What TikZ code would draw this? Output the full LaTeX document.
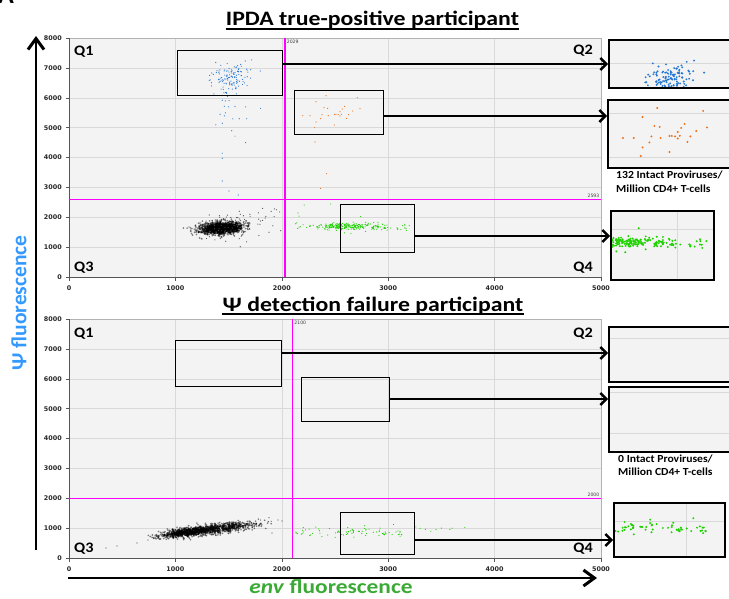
\documentclass[tikz,border=0pt]{standalone}
\usepackage{fontspec}
\setmainfont{Carlito}
\newfontfamily\tickfont{DejaVu Sans}
\usetikzlibrary{arrows.meta}

\definecolor{plotbg}{HTML}{F3F3F3}
\definecolor{gridc}{HTML}{D9D9D9}
\definecolor{axisc}{HTML}{555555}
\definecolor{ptblue}{HTML}{2478D4}
\definecolor{ptorange}{HTML}{EC7017}
\definecolor{ptgreen}{HTML}{1ED200}
\definecolor{gatec}{HTML}{FF00FF}
\definecolor{psiblue}{HTML}{3399FF}
\definecolor{envgreen}{HTML}{3AAA35}

\tikzset{
  plottop/.style={shift={(69pt,-277pt)}, x=0.1064pt, y=0.02985pt},
  plotbot/.style={shift={(69pt,-558pt)}, x=0.1064pt, y=0.02985pt},
  ticklab/.style={font=\tickfont\bfseries\fontsize{6.4}{7}\selectfont, text=black!85, inner sep=0pt},
  gatelab/.style={font=\tickfont\fontsize{4.6}{5}\selectfont, text=black!75, inner sep=0pt},
  qlab/.style={font=\bfseries\fontsize{14.5}{16}\selectfont, inner sep=0pt, xscale=1.12},
  title/.style={font=\bfseries\fontsize{20.5}{24}\selectfont, inner sep=0pt, anchor=base, xscale=1.16},
  countlab/.style={font=\bfseries\fontsize{10.8}{12}\selectfont, inner sep=0pt, anchor=base west, xscale=1.08},
  gatebox/.style={draw, line width=1.4pt, inner sep=0pt, anchor=north west},
  insetbox/.style={draw, line width=1.7pt, inner sep=0pt, anchor=north west},
  conn/.style={line width=1.5pt, -{Straight Barb[length=6pt,width=12pt,line width=2.4pt]}},
  axisarrow/.style={line width=2.7pt, -{Straight Barb[length=11pt,width=16pt,line width=3pt]}},
  gateline/.style={gatec, line width=1.5pt},
  graydot/.style={black, fill opacity=0.5},
}

\def\dotr{0.9pt}
% a pair of standard normal deviates in \gA, \gB
\newcommand\gpair{%
  \pgfmathsetmacro\gR{sqrt(-2*ln(rnd*0.998+0.001))}%
  \pgfmathsetmacro\gT{360*rnd}%
  \pgfmathsetmacro\gA{\gR*cos(\gT)}%
  \pgfmathsetmacro\gB{\gR*sin(\gT)}}
% gaussian cloud: count, mean x, sd x, mean y, sd y, slope, fill style
\newcommand\gcloud[7]{%
  \foreach \k in {1,...,#1}{%
    \gpair
    \pgfmathsetmacro\cX{#2+#3*(\gA)}%
    \pgfmathsetmacro\cY{#4+#6*(\cX-#2)+#5*(\gB)}%
    \fill[#7] (\cX,\cY) circle (\dotr);}}
% band cloud: count, x from, x to, mean y, sd y, fill style
\newcommand\bcloud[6]{%
  \foreach \k in {1,...,#1}{%
    \gpair
    \pgfmathsetmacro\cX{#2+(#3-#2)*rnd}%
    \pgfmathsetmacro\cY{#4+#5*(\gB)}%
    \fill[#6] (\cX,\cY) circle (\dotr);}}
% single listed events
\newcommand\evts[2]{\foreach \a/\b in {#2}{\fill[#1] (\a,\b) circle (\dotr);}}

% ---- event populations (data coordinates) ----
\newcommand\topblue{%
  \pgfmathsetseed{101}%
  \gcloud{132}{1515}{90}{6640}{270}{0}{ptblue}%
  \evts{ptblue}{1440/5920,1470/5900,1460/5720,1500/5700,1560/5710,1660/5700,
    1800/5650,1420/5450,1460/5400,1540/5300,1600/5300,1670/5300,1440/5150,
    1530/4900,1560/4720,1660/4500,1440/4150,1440/3980,1440/3216,1504/2881,
    1590/2747,1380/5100,1470/5500}}
\newcommand\toporange{%
  \evts{ptorange}{2415/6074,2710/6007,2321/5873,2397/5672,2431/5650,2591/5717,
    2735/5640,2569/5628,2196/5404,2265/5404,2378/5438,2437/5404,2494/5449,
    2509/5449,2547/5538,2547/5394,2628/5438,2666/5561,2321/5193,2365/5304,
    2609/5315,2309/5002,2494/5092,2312/4523,2421/3461,2365/2969,2530/5440,
    2560/5452}}
\newcommand\topgreen{%
  \pgfmathsetseed{303}%
  \gcloud{190}{2640}{170}{1690}{55}{0}{ptgreen}%
  \bcloud{70}{2090}{3200}{1690}{70}{ptgreen}%
  \evts{ptgreen}{2152/2144,2162/2040,2210/2412,2459/2446,2741/2021,2200/1750,
    2590/1480,2650/1460}}
\newcommand\topgray{%
  \pgfmathsetseed{404}%
  \gcloud{1600}{1430}{100}{1640}{100}{0.2}{graydot}%
  \def\dotr{0.6pt}%
  \gcloud{80}{1500}{220}{1700}{230}{0.3}{black!70}%
  \evts{black!70}{1780/2150,1900/2200,1950/2250,1850/2030,1980/2180,1880/1500,
    1700/2100,1600/2200,1640/2050,1250/1270,1320/1350,1990/1550,1820/2300,
    1930/2280}}
\newcommand\botgray{%
  \pgfmathsetseed{505}%
  \gcloud{900}{1120}{135}{870}{75}{0.42}{graydot}%
  \gcloud{600}{1450}{170}{1010}{80}{0.42}{graydot}%
  \def\dotr{0.6pt}%
  \evts{black!70}{348/335,451/402,639/503,742/604,800/700,1908/838,1964/1273,
    2002/1240,1880/1350,1800/1270,1900/1230}}
\newcommand\botgreen{%
  \pgfmathsetseed{606}%
  \bcloud{80}{2110}{3150}{860}{70}{ptgreen}%
  \evts{ptgreen}{3260/1040,3300/990,3350/960,3400/900,3450/950,3500/1000,
    3580/960,3600/1000,3720/1020,2780/1080,3050/1120,2620/1020}}

% ---- axes, grid and tick labels of one dot plot ----
\newcommand\plotframe[1]{%
  \fill[plotbg] (0,0) rectangle (5000,8000);
  \foreach \v in {1000,2000,...,7000} \draw[gridc, line width=0.6pt] (0,\v) -- (5000,\v);
  \foreach \v in {1000,2000,3000,4000} \draw[gridc, line width=0.6pt] (\v,0) -- (\v,8000);
  \draw[black!30, line width=0.6pt] (0,8000) -- (5000,8000) -- (5000,0);
  \draw[axisc, line width=0.8pt] (0,8000) -- (0,0) -- (5000,0);
  \foreach \v in {0,1000,...,8000}{
    \draw[axisc, line width=0.6pt] (0,\v) -- ++(-3.5pt,0);
    \node[ticklab, anchor=east] (#1y\v) at ([xshift=-7pt]0,\v) {\v};}
  \foreach \v in {0,1000,...,5000}{
    \draw[axisc, line width=0.6pt] (\v,0) -- ++(0,-3.5pt);
    \node[ticklab, anchor=north] (#1x\v) at ([yshift=-8.5pt]\v,0) {\v};}}

\begin{document}
\begin{tikzpicture}[x=1pt, y=-1pt]
\useasboundingbox (0,0) rectangle (729,599);

% cut-off panel letter
\node[font=\bfseries\fontsize{26}{26}\selectfont, inner sep=0pt, anchor=base west] (panel) at (-2,3.3) {A};

% titles
\node[title] (t1) at (372.5,26) {IPDA true-positive participant};
\draw[line width=1.3pt] ([yshift=-3pt]t1.base west) -- ([yshift=-3pt]t1.base east);
\node[title] (t2) at (373,311) {Ψ detection failure participant};
\draw[line width=1.3pt] ([yshift=-3pt]t2.base west) -- ([yshift=-3pt]t2.base east);

% ================= top plot =================
\begin{scope}[plottop]
  \plotframe{t}
  \begin{scope}
    \clip (0,0) rectangle (5000,8000);
    \topgray
    \topblue
    \toporange
    \topgreen
  \end{scope}
  \draw[gateline] (2029,0) -- (2029,8000);
  \draw[gateline] (0,2593) -- (5000,2593);
  \node[gatelab, anchor=north west] (tg1) at ([xshift=1.8pt,yshift=-2pt]2029,8000) {2029};
  \node[gatelab, anchor=south east] (tg2) at ([xshift=-1.5pt,yshift=1.5pt]5000,2593) {2593};
\end{scope}

\node[qlab, anchor=base west] (tq1l) at (74,56) {Q1};
\node[qlab, anchor=base east] (tq2l) at (593,55) {Q2};
\node[qlab, anchor=base west] (tq3l) at (74,272) {Q3};
\node[qlab, anchor=base east] (tq4l) at (593,272) {Q4};

\node[gatebox, minimum width=105pt, minimum height=45pt] (tb1) at (177,50) {};
\node[gatebox, minimum width=89pt, minimum height=44pt] (tb2) at (294,90) {};
\node[gatebox, minimum width=74pt, minimum height=48pt] (tb3) at (340,204) {};

% top insets
\fill[plotbg] (608,39) rectangle (740,87);
\draw[gridc, line width=0.6pt] (608,63) -- (740,63);
\begin{scope}
  \clip (608,39) rectangle (740,87);
  \begin{scope}[shift={(483.32pt,-293.4pt)}, x=0.12284pt, y=0.032pt]
    \def\dotr{1.05pt}
    \topblue
  \end{scope}
\end{scope}
\node[insetbox, minimum width=132pt, minimum height=48pt] (ti1) at (608,39) {};

\fill[plotbg] (607,99) rectangle (740,167);
\draw[gridc, line width=0.6pt] (607,113) -- (740,113);
\draw[gridc, line width=0.6pt] (607,157) -- (740,157);
\begin{scope}
  \clip (607,99) rectangle (740,167);
  \begin{scope}[shift={(280.9pt,-380pt)}, x=0.1558pt, y=0.04478pt]
    \def\dotr{1.1pt}
    \toporange
  \end{scope}
\end{scope}
\node[insetbox, minimum width=133pt, minimum height=68pt] (ti2) at (607,99) {};

\node[countlab] (tc1) at (616,179) {132 Intact Proviruses/};
\node[countlab] (tc2) at (616,193) {Million CD4+ T-cells};

\fill[plotbg] (610,210) rectangle (713,279);
\draw[gridc, line width=0.6pt] (610,229) -- (713,229);
\draw[gridc, line width=0.6pt] (677,210) -- (677,279);
\begin{scope}
  \clip (610,210) rectangle (713,279);
  \begin{scope}[shift={(233.3pt,-314.95pt)}, x=0.1479pt, y=0.0429pt]
    \def\dotr{1.1pt}
    \topgreen
  \end{scope}
\end{scope}
\node[insetbox, minimum width=103pt, minimum height=69pt] (ti3) at (610,210) {};

\coordinate (ta1) at (0,64);
\coordinate (ta2) at (0,116);
\coordinate (ta3) at (0,236);
\draw[conn] (tb1.east |- ta1) -- (ti1.west |- ta1);
\draw[conn] (tb2.east |- ta2) -- (ti2.west |- ta2);
\draw[conn] (tb3.east |- ta3) -- (ti3.west |- ta3);

% ================= bottom plot =================
\begin{scope}[plotbot]
  \plotframe{b}
  \begin{scope}
    \clip (0,0) rectangle (5000,8000);
    \botgray
    \botgreen
  \end{scope}
  \draw[gateline] (2100,0) -- (2100,8000);
  \draw[gateline] (0,2000) -- (5000,2000);
  \node[gatelab, anchor=north west] (bg1) at ([xshift=1.8pt,yshift=-2pt]2100,8000) {2100};
  \node[gatelab, anchor=south east] (bg2) at ([xshift=-1.5pt,yshift=1.5pt]5000,2000) {2000};
\end{scope}

\node[qlab, anchor=base west] (bq1l) at (74,337) {Q1};
\node[qlab, anchor=base east] (bq2l) at (593,337) {Q2};
\node[qlab, anchor=base west] (bq3l) at (74,552) {Q3};
\node[qlab, anchor=base east] (bq4l) at (593,552) {Q4};

\node[gatebox, minimum width=106pt, minimum height=46pt] (bb1) at (175,340) {};
\node[gatebox, minimum width=88pt, minimum height=44pt] (bb2) at (301,377) {};
\node[gatebox, minimum width=74pt, minimum height=42pt] (bb3) at (340,512) {};

% bottom insets
\fill[plotbg] (608,326) rectangle (740,381);
\draw[gridc, line width=0.6pt] (608,338) -- (740,338);
\node[insetbox, minimum width=132pt, minimum height=55pt] (bi1) at (608,326) {};

\fill[plotbg] (608,386) rectangle (740,451);
\draw[gridc, line width=0.6pt] (608,392) -- (740,392);
\draw[gridc, line width=0.6pt] (608,433) -- (740,433);
\node[insetbox, minimum width=132pt, minimum height=65pt] (bi2) at (608,386) {};

\node[countlab] (bc1) at (618,462) {0 Intact Proviruses/};
\node[countlab] (bc2) at (618,475) {Million CD4+ T-cells};

\fill[plotbg] (613,502) rectangle (724,556);
\draw[gridc, line width=0.6pt] (613,521) -- (724,521);
\draw[gridc, line width=0.6pt] (686,502) -- (686,556);
\begin{scope}
  \clip (613,502) rectangle (724,556);
  \begin{scope}[shift={(206.2pt,-561.14pt)}, x=0.1597pt, y=0.03838pt]
    \def\dotr{1.1pt}
    \botgreen
  \end{scope}
\end{scope}
\node[insetbox, minimum width=111pt, minimum height=54pt] (bi3) at (613,502) {};

\coordinate (ba1) at (0,353);
\coordinate (ba2) at (0,399);
\coordinate (ba3) at (0,540);
\draw[conn] (bb1.east |- ba1) -- (bi1.west |- ba1);
\draw[conn] (bb2.east |- ba2) -- (bi2.west |- ba2);
\draw[conn] (bb3.east |- ba3) -- (bi3.west |- ba3);

% ================= shared axis arrows =================
\coordinate (ybot) at (36,550);
\coordinate (ytop) at (36,36);
\draw[axisarrow] (ybot) -- (ytop);
\coordinate (xleft) at (68,578);
\coordinate (xright) at (597,578);
\draw[axisarrow] (xleft) -- (xright);

\node[rotate=90, text=psiblue, font=\bfseries\fontsize{21.5}{24}\selectfont, inner sep=0pt] (ylab) at (19,303) {Ψ fluorescence};
\node[text=envgreen, font=\bfseries\fontsize{20}{22}\selectfont, inner sep=0pt, xscale=1.17, anchor=base] (xlab) at (331,593.5) {\textit{env} fluorescence};
\end{tikzpicture}
\end{document}
